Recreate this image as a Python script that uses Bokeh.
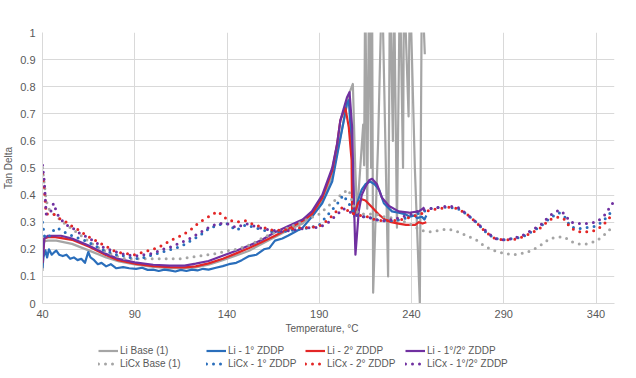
from bokeh.plotting import figure
from bokeh.layouts import column
from bokeh.models import Range1d, FixedTicker, CustomJSTickFormatter, Legend, LegendItem, Title
from bokeh.embed import file_html
from bokeh.resources import INLINE

FONT = "Liberation Sans"
TXT = "#595959"
GRID = "#D9D9D9"

x_ticks = [40, 90, 140, 190, 240, 290, 340]
y_ticks = [0, 0.1, 0.2, 0.3, 0.4, 0.5, 0.6, 0.7, 0.8, 0.9, 1.0]
y_tick_labels = ["0", "0.1", "0.2", "0.3", "0.4", "0.5", "0.6", "0.7", "0.8", "0.9", "1"]

names = ["Li Base (1)", "Li - 1° ZDDP", "Li - 2° ZDDP", "Li - 1°/2° ZDDP",
         "LiCx Base (1)", "LiCx - 1° ZDDP", "LiCx - 2° ZDDP", "LiCx - 1°/2° ZDDP"]
colors = ["#A5A5A5", "#2A6EBB", "#E32626", "#7030A0"]

# ---- solid series (Li greases) ----
t_li_base = [40, 40.5, 41, 43, 47.5, 56, 65, 74.5, 81.5, 90.7, 100, 109, 117, 123, 130,
             137.7, 145, 152, 159, 166, 173, 181, 186, 191.6, 197, 201, 204, 206.5, 208.2,
             209.5, 210.5, 212.2, 213.8, 214.3, 214.9, 216.0, 217.0, 218.1, 218.6,
             219.2, 221.9, 224.0, 227.3, 228.3, 229.9, 230.5, 232.1, 233.7, 235.4,
             235.9, 238.4, 239.1, 241.8, 244.5, 245.6, 247.2]
v_li_base = [0.12, 0.2, 0.23, 0.232, 0.232, 0.22, 0.196, 0.17, 0.155, 0.143, 0.135, 0.13, 0.13, 0.133, 0.143,
             0.16, 0.177, 0.195, 0.22, 0.245, 0.27, 0.295, 0.33, 0.38, 0.47, 0.6, 0.7, 0.78, 0.81,
             0.5, 0.33, 0.5, 0.66, 0.51, 1.2, 0.35, 1.2, 0.5, 1.2,
             0.04, 0.6, 1.2, 0.1, 1.2, 0.6, 1.2, 0.28, 1.2, 0.5,
             1.2, 0.69, 1.2, 0.5, 0.0, 1.2, 0.92]

t_li_1 = [40, 40.5, 41.6, 42.5, 43.5, 45, 46.5, 47.5, 49, 51, 53, 55, 57, 59, 61,
          63, 64.8, 66, 68, 70, 72, 74.5, 77, 80, 83.7, 87, 90.7, 94, 97, 100,
          103, 106, 109, 112, 115, 118, 121, 124, 127, 130, 134, 137.7, 141, 145, 148,
          152, 156, 160, 163, 166, 170, 173, 177, 181, 186, 191.6, 197, 200.6, 203.3, 205,
          206, 207.5, 209, 211, 213, 215, 217.5, 220, 222.4, 225, 229.4, 233, 236.4, 239, 241.8,
          243, 245.6, 247, 248]
v_li_1 = [0.13, 0.17, 0.196, 0.17, 0.2, 0.18, 0.19, 0.195, 0.18, 0.175, 0.18, 0.165, 0.17, 0.16, 0.165,
          0.15, 0.19, 0.17, 0.16, 0.145, 0.15, 0.137, 0.145, 0.13, 0.134, 0.13, 0.128, 0.132, 0.124, 0.125,
          0.12, 0.125, 0.122, 0.118, 0.124, 0.12, 0.125, 0.122, 0.128, 0.125, 0.132, 0.138, 0.145, 0.15, 0.16,
          0.175, 0.18, 0.2, 0.205, 0.232, 0.24, 0.25, 0.265, 0.28, 0.32, 0.37, 0.45, 0.58, 0.675, 0.74,
          0.75, 0.59, 0.32, 0.38, 0.42, 0.44, 0.45, 0.44, 0.42, 0.37, 0.34, 0.335, 0.33, 0.32, 0.325,
          0.315, 0.32, 0.31, 0.325]

t_li_2 = [40, 40.5, 41, 43, 47, 56, 65, 74, 81, 90.7, 100, 109, 117, 123, 130,
          137.7, 145, 152, 159, 166, 173, 181, 186, 191.6, 197, 199.7, 201.4, 203.3, 204.2, 206,
          207.5, 207.8, 208.5, 209.5, 211, 213, 215, 218.6, 222, 225.6,
          229, 233, 237, 240, 242, 244, 246, 248]
v_li_2 = [0.15, 0.2, 0.24, 0.245, 0.245, 0.235, 0.21, 0.18, 0.16, 0.146, 0.138, 0.134, 0.133, 0.137, 0.148,
          0.165, 0.185, 0.205, 0.227, 0.25, 0.275, 0.305, 0.33, 0.39, 0.49, 0.59, 0.675, 0.71, 0.72, 0.65,
          0.53, 0.34, 0.33, 0.34, 0.37, 0.385, 0.38, 0.355, 0.33, 0.31,
          0.3, 0.295, 0.29, 0.29, 0.29, 0.3, 0.295, 0.30]

t_li_12 = [40, 40.5, 41, 43, 46, 50, 56, 65, 74, 81, 90, 100, 109, 117, 123,
           130, 138, 145, 152, 159, 166, 173, 181, 186, 191.6, 197, 199.7, 201.4, 203.3, 205,
           206.4, 207.8, 208.7, 209.6, 211.4, 213, 215, 217, 218.6, 221.3, 224, 227.8, 233, 238.6, 244, 247]
v_li_12 = [0.15, 0.2, 0.24, 0.25, 0.25, 0.25, 0.24, 0.214, 0.184, 0.165, 0.152, 0.143, 0.14, 0.14, 0.147,
           0.157, 0.177, 0.195, 0.214, 0.235, 0.263, 0.285, 0.31, 0.34, 0.40, 0.50, 0.59, 0.675, 0.72, 0.76,
           0.78, 0.65, 0.40, 0.18, 0.34, 0.40, 0.43, 0.455, 0.46, 0.44, 0.39, 0.36, 0.34, 0.335, 0.34, 0.355]

# ---- dotted series (LiCx greases) ----
t_licx = [40, 41, 42, 44, 46, 48, 50, 53, 56, 60, 64, 68, 72, 76, 80, 85, 90, 95, 100, 105,
          110, 115, 120, 125, 130, 135, 140, 145, 150, 155, 160, 165, 170, 175, 180, 185, 190, 195, 200, 203,
          206, 209, 212, 216, 220, 225, 230, 235, 240, 245, 250, 255, 260, 265, 270, 275, 280, 285, 290, 295,
          300, 305, 310, 315, 320, 323, 326, 330, 335, 340, 344, 347, 350]
v_licx_base = [0.5, 0.44, 0.38, 0.34, 0.33, 0.32, 0.305, 0.29, 0.275, 0.255, 0.235, 0.215, 0.2, 0.185, 0.175,
               0.165, 0.165, 0.165, 0.165, 0.165, 0.165, 0.165, 0.17, 0.175, 0.18, 0.185, 0.195, 0.2, 0.21, 0.225,
               0.245, 0.26, 0.27, 0.285, 0.3, 0.315, 0.33, 0.36, 0.39, 0.41, 0.42, 0.35, 0.33, 0.33, 0.33,
               0.32, 0.315, 0.305, 0.29, 0.27, 0.265, 0.27, 0.275, 0.265, 0.25, 0.235, 0.21, 0.195, 0.185, 0.18,
               0.185, 0.195, 0.215, 0.24, 0.245, 0.245, 0.23, 0.22, 0.22, 0.23, 0.25, 0.27, 0.29]
v_licx_1 = [0.3, 0.25, 0.24, 0.25, 0.27, 0.28, 0.27, 0.26, 0.25, 0.24, 0.23, 0.215, 0.2, 0.19, 0.18,
            0.175, 0.165, 0.17, 0.18, 0.19, 0.2, 0.21, 0.23, 0.25, 0.275, 0.29, 0.295, 0.27, 0.29, 0.28,
            0.27, 0.265, 0.265, 0.27, 0.275, 0.28, 0.29, 0.33, 0.37, 0.4, 0.37, 0.33, 0.32, 0.32, 0.31,
            0.305, 0.305, 0.31, 0.325, 0.335, 0.35, 0.355, 0.355, 0.35, 0.33, 0.3, 0.265, 0.24, 0.235, 0.24,
            0.245, 0.265, 0.285, 0.315, 0.335, 0.32, 0.285, 0.275, 0.28, 0.285, 0.305, 0.33, 0.345]
v_licx_2 = [0.48, 0.42, 0.33, 0.33, 0.33, 0.32, 0.31, 0.3, 0.285, 0.27, 0.25, 0.235, 0.22, 0.205, 0.19,
            0.185, 0.18, 0.19, 0.2, 0.215, 0.235, 0.25, 0.27, 0.3, 0.32, 0.34, 0.31, 0.3, 0.305, 0.29,
            0.28, 0.27, 0.27, 0.275, 0.28, 0.28, 0.285, 0.31, 0.345, 0.355, 0.34, 0.33, 0.325, 0.32, 0.31,
            0.305, 0.305, 0.31, 0.32, 0.33, 0.345, 0.35, 0.355, 0.35, 0.33, 0.3, 0.265, 0.24, 0.235, 0.235,
            0.245, 0.26, 0.28, 0.31, 0.32, 0.31, 0.28, 0.265, 0.265, 0.27, 0.29, 0.315, 0.33]
v_licx_12 = [0.51, 0.45, 0.33, 0.33, 0.37, 0.33, 0.31, 0.29, 0.28, 0.26, 0.245, 0.23, 0.21, 0.2, 0.19,
             0.18, 0.175, 0.18, 0.185, 0.2, 0.21, 0.225, 0.24, 0.26, 0.28, 0.295, 0.295, 0.28, 0.295, 0.285,
             0.275, 0.27, 0.265, 0.27, 0.275, 0.28, 0.28, 0.3, 0.33, 0.35, 0.34, 0.33, 0.32, 0.32, 0.31,
             0.305, 0.31, 0.32, 0.33, 0.345, 0.35, 0.355, 0.36, 0.355, 0.33, 0.3, 0.27, 0.24, 0.235, 0.24,
             0.25, 0.27, 0.29, 0.325, 0.345, 0.33, 0.3, 0.295, 0.295, 0.3, 0.32, 0.35, 0.38]

SOLID_W = 2.2
DOT_W = 3
DOT_DASH = "0 7"

p = figure(width=630, height=338, x_range=Range1d(40, 350), y_range=Range1d(0, 1),
           output_backend="svg", toolbar_location=None,
           min_border_left=39, min_border_right=16, min_border_top=32, min_border_bottom=35)
p.outline_line_color = None
p.background_fill_color = "white"

p.xaxis.ticker = FixedTicker(ticks=x_ticks)
p.yaxis.ticker = FixedTicker(ticks=y_ticks)
p.yaxis.formatter = CustomJSTickFormatter(args=dict(labels=y_tick_labels),
                                          code="return labels[Math.round(tick * 10)];")
for ax in (p.xaxis[0], p.yaxis[0]):
    ax.axis_line_color = GRID
    ax.major_tick_line_color = None
    ax.minor_tick_line_color = None
    ax.major_tick_out = 0
    ax.major_tick_in = 0
    ax.minor_tick_out = 0
    ax.minor_tick_in = 0
    ax.major_label_text_font = FONT
    ax.major_label_text_font_size = "11px"
    ax.major_label_text_color = TXT
p.yaxis.major_label_standoff = 7
p.xaxis.major_label_standoff = 6
p.yaxis.axis_label = "Tan Delta"
p.yaxis.axis_label_text_font = FONT
p.yaxis.axis_label_text_font_size = "10px"
p.yaxis.axis_label_text_font_style = "normal"
p.yaxis.axis_label_text_color = TXT
p.yaxis.axis_label_standoff = 3

p.xgrid.grid_line_color = GRID
p.ygrid.grid_line_color = GRID

solid = [(t_li_base, v_li_base), (t_li_1, v_li_1), (t_li_2, v_li_2), (t_li_12, v_li_12)]
dotted = [v_licx_base, v_licx_1, v_licx_2, v_licx_12]

for (t, v), c in zip(solid, colors):
    p.line(t, v, line_color=c, line_width=SOLID_W, line_join="round")
for v, c in zip(dotted, colors):
    p.line(t_licx, v, line_color=c, line_width=DOT_W, line_dash=DOT_DASH, line_cap="round")

xt = Title(text="Temperature, °C", align="left", offset=243, text_font=FONT,
           text_font_size="10px", text_font_style="normal", text_color=TXT, standoff=0)
p.add_layout(xt, "below")

# ---- legend strip (a second figure, so the legend sits below the axis title) ----
lg = figure(width=630, height=34, x_range=Range1d(0, 1), y_range=Range1d(0, 1),
            output_backend="svg", toolbar_location=None,
            x_axis_location=None, y_axis_location=None,
            min_border_left=39, min_border_right=16, min_border_top=0, min_border_bottom=0)
lg.outline_line_color = None
lg.grid.visible = False

nan = float("nan")
legend_x = [56, 164, 263, 363]   # offsets from the strip's frame left edge
for i, c in enumerate(colors):
    r_solid = lg.line([0, 1], [nan, nan], line_color=c, line_width=SOLID_W)
    r_dot = lg.line([0, 1], [nan, nan], line_color=c, line_width=DOT_W, line_dash=DOT_DASH,
                    line_cap="round")
    leg = Legend(items=[LegendItem(label=names[i], renderers=[r_solid]),
                        LegendItem(label=names[i + 4], renderers=[r_dot])],
                 location=(legend_x[i], 3),
                 label_text_font=FONT, label_text_font_size="10px", label_text_color=TXT,
                 glyph_width=20, glyph_height=11, label_height=11, label_standoff=2,
                 spacing=2, padding=0, margin=0, border_line_alpha=0, background_fill_alpha=0)
    lg.add_layout(leg, "center")

open("out.html", "w").write(file_html(column(p, lg, spacing=0), INLINE))
